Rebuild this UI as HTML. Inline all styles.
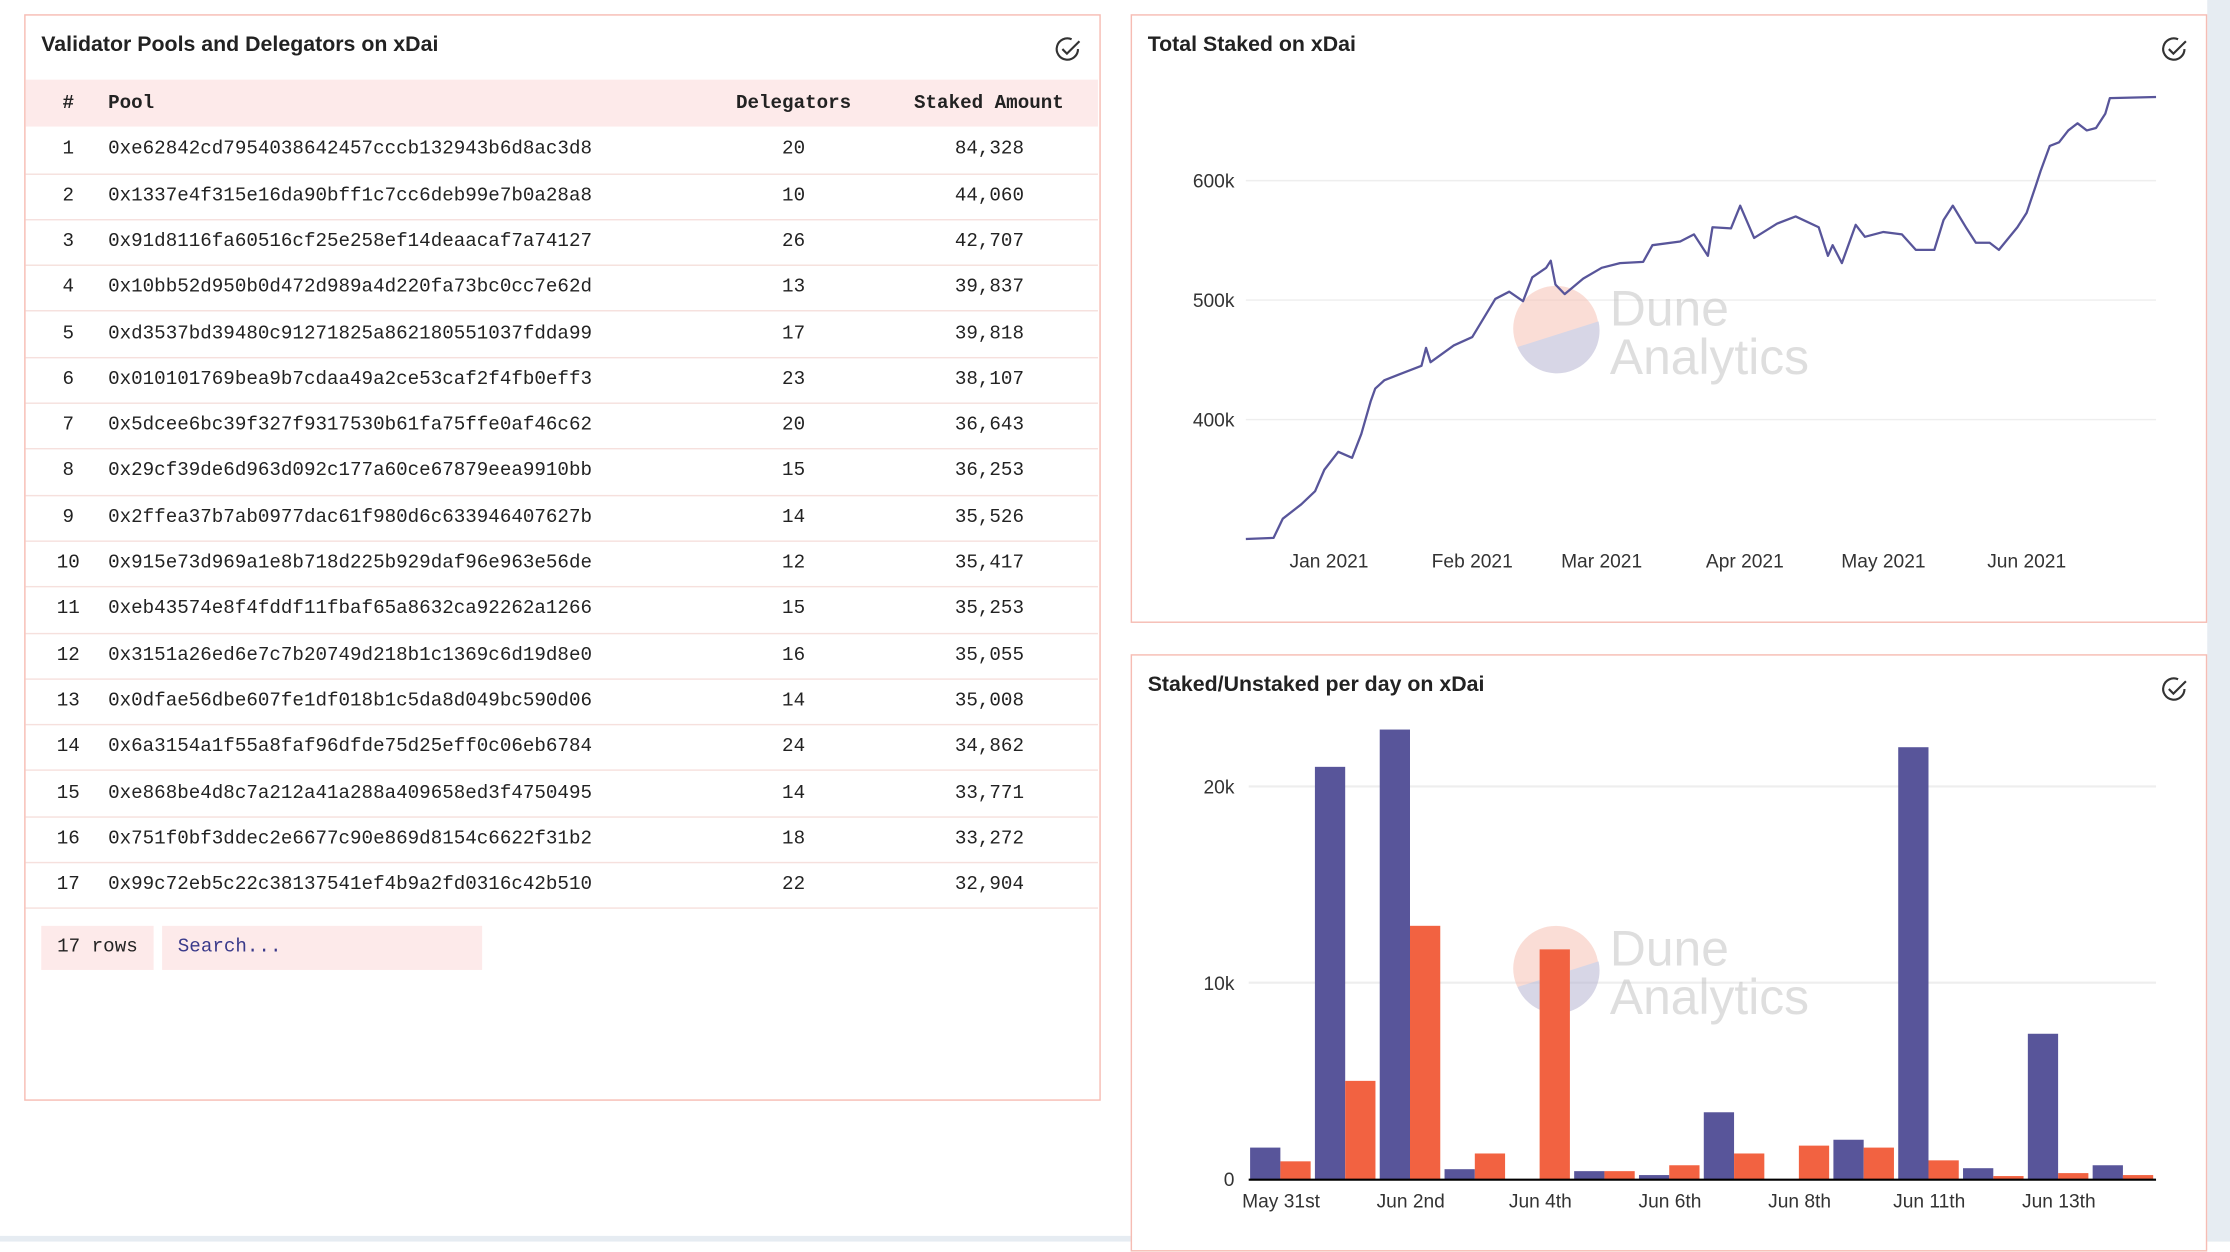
<!DOCTYPE html>
<html><head><meta charset="utf-8">
<style>
html,body{margin:0;padding:0;background:#fff;overflow:hidden;width:2230px;height:1242px}
#root{position:absolute;left:0;top:0;width:1568px;height:873px;transform:scale(1.42219);transform-origin:0 0;font-family:"Liberation Sans",sans-serif;color:#222}
.panel{position:absolute;border:1.5px solid #f6bcb3;background:#fff;box-sizing:border-box}
.title{position:absolute;left:11px;top:12px;font-size:15px;font-weight:bold;color:#222}
.check{position:absolute;right:12px;top:14px}
.tbl{position:absolute;left:0;top:45px;width:754px;font-family:"Liberation Mono",monospace;font-size:13.5px}
.row{position:absolute;left:0;width:754px;height:32.3px;line-height:32px;border-bottom:1px solid #f6e0dd;box-sizing:border-box}
.hdr{background:#fdeaea;font-weight:bold;border-bottom:none;line-height:36px}
.row span{position:absolute;top:0}
.c0{left:10px;width:40px;text-align:center}
.c1{left:58px}
.c2{left:480px;width:120px;text-align:center}
.c3{left:580px;width:122px;text-align:right}
</style></head><body>
<div id="root">
<div style="position:absolute;left:1552px;top:0;width:16px;height:873px;background:#e6ecf2"></div>
<div style="position:absolute;left:0;top:869px;width:1568px;height:4px;background:#e6ecf2"></div>

<div class="panel" style="left:17px;top:10px;width:757px;height:764px">
  <div class="title">Validator Pools and Delegators on xDai</div>
  <svg class="check" width="20" height="20" viewBox="0 0 20 20"><path d="M17 9.5A7.5 7.5 0 1 1 12.5 2.6" fill="none" stroke="#333" stroke-width="1.5"/><path d="M6 9.5l3.2 3.2L18 4" fill="none" stroke="#333" stroke-width="1.5"/></svg>
  <div class="tbl" id="tb">
    <div class="row hdr" style="top:0;height:33px"><span class="c0">#</span><span class="c1">Pool</span><span class="c2">Delegators</span><span class="c3" style="left:600px;width:130px">Staked Amount</span></div>
  </div>
  <div style="position:absolute;left:11px;top:640px;width:79px;height:31px;background:#fdeaea;font-family:'Liberation Mono',monospace;font-size:13.5px;line-height:31px;text-align:center">17 rows</div>
  <div style="position:absolute;left:96px;top:640px;width:225px;height:31px;background:#fdeaea;font-family:'Liberation Mono',monospace;font-size:13.5px;line-height:31px;padding-left:11px;box-sizing:border-box;color:#3a3a8a">Search...</div>
</div>

<div class="panel" style="left:795px;top:10px;width:757px;height:428px">
  <div class="title">Total Staked on xDai</div>
  <svg class="check" width="20" height="20" viewBox="0 0 20 20"><path d="M17 9.5A7.5 7.5 0 1 1 12.5 2.6" fill="none" stroke="#333" stroke-width="1.5"/><path d="M6 9.5l3.2 3.2L18 4" fill="none" stroke="#333" stroke-width="1.5"/></svg>
</div>
<div class="panel" style="left:795px;top:460px;width:757px;height:420px">
  <div class="title">Staked/Unstaked per day on xDai</div>
  <svg class="check" width="20" height="20" viewBox="0 0 20 20"><path d="M17 9.5A7.5 7.5 0 1 1 12.5 2.6" fill="none" stroke="#333" stroke-width="1.5"/><path d="M6 9.5l3.2 3.2L18 4" fill="none" stroke="#333" stroke-width="1.5"/></svg>
</div>

<svg id="charts" width="1568" height="873" style="position:absolute;left:0;top:0"></svg>
</div>
<script>
const poolIds=["0xe62842cd7954038642457cccb132943b6d8ac3d8","0x1337e4f315e16da90bff1c7cc6deb99e7b0a28a8","0x91d8116fa60516cf25e258ef14deaacaf7a74127","0x10bb52d950b0d472d989a4d220fa73bc0cc7e62d","0xd3537bd39480c91271825a862180551037fdda99","0x010101769bea9b7cdaa49a2ce53caf2f4fb0eff3","0x5dcee6bc39f327f9317530b61fa75ffe0af46c62","0x29cf39de6d963d092c177a60ce67879eea9910bb","0x2ffea37b7ab0977dac61f980d6c633946407627b","0x915e73d969a1e8b718d225b929daf96e963e56de","0xeb43574e8f4fddf11fbaf65a8632ca92262a1266","0x3151a26ed6e7c7b20749d218b1c1369c6d19d8e0","0x0dfae56dbe607fe1df018b1c5da8d049bc590d06","0x6a3154a1f55a8faf96dfde75d25eff0c06eb6784","0xe868be4d8c7a212a41a288a409658ed3f4750495","0x751f0bf3ddec2e6677c90e869d8154c6622f31b2","0x99c72eb5c22c38137541ef4b9a2fd0316c42b510"];
const delegators=[20,10,26,13,17,23,20,15,14,12,15,16,14,24,14,18,22];
const stakedAmt=[84328,44060,42707,39837,39818,38107,36643,36253,35526,35417,35253,35055,35008,34862,33771,33272,32904];
const tb=document.getElementById('tb');
poolIds.forEach((p,i)=>{
  const r=document.createElement('div');
  r.className='row';
  r.style.top=(32.3*(i+1)+2)+'px';
  
  
  r.innerHTML='<span class="c0">'+(i+1)+'</span><span class="c1">'+p+'</span><span class="c2">'+delegators[i]+'</span><span class="c3">'+stakedAmt[i].toLocaleString('en-US')+'</span>';
  tb.appendChild(r);
});

const lineDates=["2020-12-14","2020-12-20","2020-12-22","2020-12-26","2020-12-29","2020-12-31","2021-01-03","2021-01-06","2021-01-08","2021-01-10","2021-01-11","2021-01-13","2021-01-17","2021-01-21","2021-01-22","2021-01-23","2021-01-28","2021-02-01","2021-02-06","2021-02-09","2021-02-12","2021-02-14","2021-02-17","2021-02-18","2021-02-19","2021-02-21","2021-02-25","2021-03-01","2021-03-05","2021-03-10","2021-03-12","2021-03-18","2021-03-21","2021-03-24","2021-03-25","2021-03-29","2021-03-31","2021-04-03","2021-04-08","2021-04-12","2021-04-17","2021-04-19","2021-04-20","2021-04-22","2021-04-25","2021-04-27","2021-05-01","2021-05-05","2021-05-08","2021-05-12","2021-05-14","2021-05-16","2021-05-19","2021-05-21","2021-05-24","2021-05-26","2021-05-30","2021-06-01","2021-06-03","2021-06-04","2021-06-06","2021-06-08","2021-06-10","2021-06-12","2021-06-14","2021-06-16","2021-06-18","2021-06-19","2021-06-29"];
const lineValues=[300,301,317,329,340,358,373,368,388,415,426,433,439,445,460,448,462,469,501,507,499,519,527,533,513,505,518,527,531,532,546,549,555,537,561,560,579,552,564,570,561,537,546,531,563,553,557,555,542,542,567,579,560,548,548,542,561,573,596,608,629,632,642,648,642,644,656,669,670];
const lineYTicks=[400,500,600];
const lineXTicks=["2021-01-01","2021-02-01","2021-03-01","2021-04-01","2021-05-01","2021-06-01"];
const lineXLabels=["Jan 2021","Feb 2021","Mar 2021","Apr 2021","May 2021","Jun 2021"];

const barCats=["May 31st","Jun 1st","Jun 2nd","Jun 3rd","Jun 4th","Jun 5th","Jun 6th","Jun 7th","Jun 8th","Jun 10th","Jun 11th","Jun 12th","Jun 13th","Jun 14th"];
const stakedVals=[1.6,21,22.9,0.5,0,0.4,0.2,3.4,0,2.0,22,0.55,7.4,0.7];
const unstakedVals=[0.9,5.0,12.9,1.3,11.7,0.4,0.7,1.3,1.7,1.6,0.95,0.15,0.3,0.2];
const barYTicks=[0,10,20];
const barYLabels=["0","10k","20k"];
const barLabelIdx=[0,2,4,6,8,10,12];

const NS='http://www.w3.org/2000/svg';
const svg=document.getElementById('charts');
function mk(tag,attrs,parent){const e=document.createElementNS(NS,tag);for(const k in attrs)e.setAttribute(k,attrs[k]);(parent||svg).appendChild(e);return e;}

function watermark(cx,cy){
  const g=mk('g',{opacity:'0.55'});
  
  
  mk('circle',{cx:cx,cy:cy,r:30,fill:'#f7c2b6'},g);
  mk('path',{d:`M${cx-27} ${cy+13} L${cx+30} ${cy-5} A30 30 0 0 1 ${cx-27} ${cy+13}Z`,fill:'#b7b5d2'},g);
  const t1=mk('text',{x:cx+38,y:cy-2,'font-size':35,fill:'#c4c4c4','font-family':'Liberation Sans, sans-serif'},g);t1.textContent='Dune';
  const t2=mk('text',{x:cx+38,y:cy+32,'font-size':35,fill:'#c4c4c4','font-family':'Liberation Sans, sans-serif'},g);t2.textContent='Analytics';
}

const t0=Date.parse("2020-12-14"), t1=Date.parse("2021-06-29");
const lx=d=>876+(Date.parse(d)-t0)/(t1-t0)*(1516-876);
const ly=v=>127+(600-v)*0.84;
lineYTicks.forEach(v=>{
  const l=mk('line',{x1:876,x2:1516,y1:ly(v),y2:ly(v),stroke:'#eeeeee','stroke-width':1});
  
  
  const t=mk('text',{x:868,y:ly(v)+5,'text-anchor':'end','font-size':13.5,fill:'#333'});
  
  
  t.textContent=v+'k';
});
lineXTicks.forEach((d,i)=>{
  const t=mk('text',{x:lx(d),y:399,'text-anchor':'middle','font-size':13.5,fill:'#333'});
  
  
  t.textContent=lineXLabels[i];
});
watermark(1094,231);
const pts=lineDates.map((d,i)=>lx(d).toFixed(1)+','+ly(lineValues[i]).toFixed(1)).join(' ');
const pl=mk('polyline',{points:pts,fill:'none',stroke:'#58559a','stroke-width':1.6,'stroke-linejoin':'round'});



const bx0=878, bx1=1516, gw=(bx1-bx0)/barCats.length;
const by=v=>829-v*13.8;
barYTicks.forEach((v,i)=>{
  if(v>0){const l=mk('line',{x1:878,x2:1516,y1:by(v),y2:by(v),stroke:'#eeeeee','stroke-width':1.5});
  
  }
  const t=mk('text',{x:868,y:by(v)+5,'text-anchor':'end','font-size':13.5,fill:'#333'});
  
  
  t.textContent=barYLabels[i];
});
watermark(1094,681);
barCats.forEach((c,i)=>{
  const x=bx0+i*gw+1;
  const bw=(gw-3)/2;
  const r1=mk('rect',{x:x,y:by(stakedVals[i]),width:bw,height:by(0)-by(stakedVals[i]),fill:'#58559a'});
  
  
  const r2=mk('rect',{x:x+bw,y:by(unstakedVals[i]),width:bw,height:by(0)-by(unstakedVals[i]),fill:'#f26241'});
  
  
});
const ax=mk('line',{x1:878,x2:1516,y1:829.5,y2:829.5,stroke:'#000','stroke-width':1.5});


barLabelIdx.forEach(i=>{
  const t=mk('text',{x:bx0+i*gw+gw/2,y:849,'text-anchor':'middle','font-size':13.5,fill:'#333'});
  
  
  t.textContent=barCats[i];
});
</script>
</body></html>
